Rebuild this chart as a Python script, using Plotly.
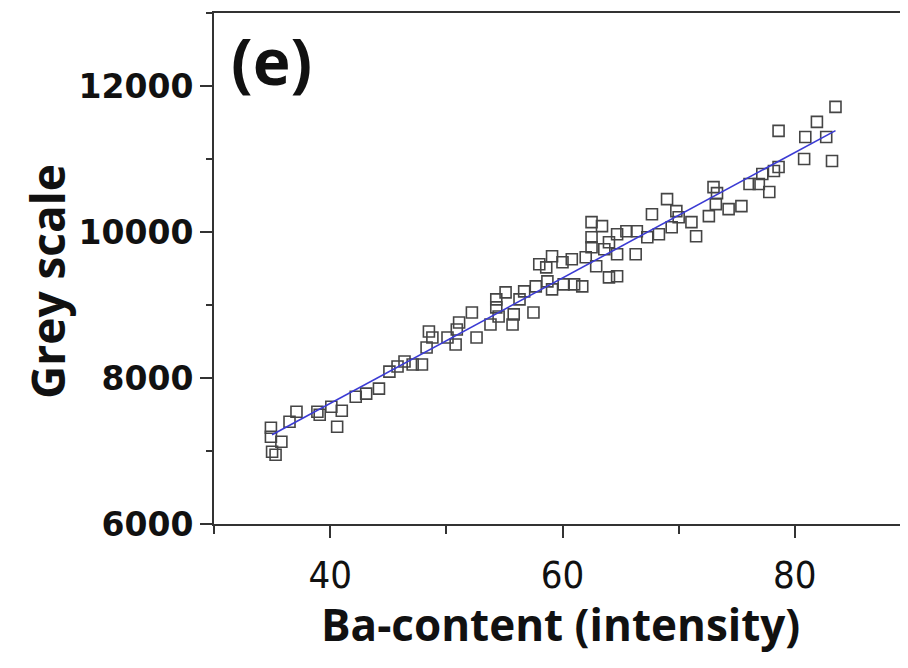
import plotly.graph_objects as go

# Data
ba_content = [34.9, 34.9, 35.8, 35.0, 35.3, 36.5, 37.1, 38.9, 39.1, 40.1,
              41.0, 40.6, 42.2, 43.1, 44.2, 45.1, 45.8, 46.4, 47.1, 47.9,
              48.3, 48.5, 48.8, 50.1, 50.8, 50.9, 51.1, 52.2, 52.6, 53.8,
              54.3, 54.3, 54.5, 55.1, 55.7, 55.8, 56.3, 56.7, 57.5, 57.7,
              58.0, 58.6, 59.1, 58.7, 59.1, 60.0, 60.8, 62.0, 62.9, 60.1,
              61.0, 61.7, 64.0, 64.7, 62.5, 63.6, 64.7, 66.3, 64.0, 62.5,
              62.5, 63.4, 64.7, 65.5, 66.4, 67.3, 68.3, 69.4, 71.5, 71.1,
              70.0, 69.8, 67.7, 69.0, 72.6, 73.0, 73.3, 73.2, 74.3, 75.4,
              76.1, 76.9, 77.8, 77.2, 78.2, 78.6, 80.8, 83.2, 80.9, 82.7,
              78.6, 81.9, 83.5]
grey_scale = [7319, 7195, 7126, 6989, 6948, 7401, 7538, 7538, 7497, 7607,
              7552, 7332, 7744, 7786, 7854, 8088, 8157, 8225, 8184, 8184,
              8418, 8637, 8555, 8555, 8459, 8665, 8761, 8898, 8555, 8733,
              9077, 8967, 8843, 9173, 8733, 8871, 9077, 9187, 8898, 9255,
              9558, 9516, 9668, 9324, 9214, 9585, 9626, 9654, 9530, 9283,
              9283, 9255, 9379, 9393, 9791, 9764, 9695, 9695, 9860, 9928,
              10135, 10080, 9970, 10011, 10011, 9928, 9970, 10066, 9942, 10135,
              10203, 10286, 10244, 10450, 10217, 10615, 10533, 10382, 10313, 10354,
              10657, 10657, 10547, 10794, 10835, 10890, 11000, 10972, 11302, 11302,
              11385, 11508, 11714]

fit_x = [35.0, 83.5]
fit_y = [7222, 11389]

x_ticks = [40, 60, 80]
x_tick_labels = ["40", "60", "80"]
y_ticks = [6000, 8000, 10000, 12000]
y_tick_labels = ["6000", "8000", "10000", "12000"]

# page body has an 8px margin; plot area spans x 214..911, y 13..524 in the window
L, T, W, H = 214, 13, 697, 511


def px(xv):
    return (xv - L) / W


def py(yv):
    return (T + H - yv) / H


fig = go.Figure()
fig.add_trace(go.Scatter(
    x=ba_content, y=grey_scale, mode="markers",
    marker=dict(symbol="square-open", size=11, color="#454545",
                line=dict(width=1.6, color="#454545")),
    showlegend=False))
fig.add_trace(go.Scatter(
    x=fit_x, y=fit_y, mode="lines",
    line=dict(color="#3b3bd4", width=1.6), showlegend=False))
fig.add_trace(go.Scatter(x=[None], y=[None], yaxis="y2", showlegend=False,
                         hoverinfo="skip"))

axis_col = "#333333"
fig.update_layout(
    width=908, height=668,
    margin=dict(l=206, r=5, t=5, b=152),
    paper_bgcolor="white", plot_bgcolor="white",
    xaxis=dict(
        range=[30, 90], tickvals=x_ticks, ticktext=x_tick_labels,
        ticks="outside", ticklen=12, tickwidth=2, tickcolor=axis_col,
        minor=dict(tickvals=[30, 50, 70], ticks="outside", ticklen=8,
                   tickwidth=2, tickcolor=axis_col),
        showline=True, linewidth=2, linecolor=axis_col, mirror=True,
        showgrid=False, zeroline=False, automargin=False,
        tickfont=dict(family="Liberation Sans Narrow, Arial Narrow, DejaVu Sans Condensed, sans-serif",
                      size=38, color="#111111"),
        ticklabelstandoff=4,
    ),
    yaxis=dict(
        range=[6000, 13000], tickvals=y_ticks, ticktext=y_tick_labels,
        ticks="outside", ticklen=12, tickwidth=2, tickcolor=axis_col,
        minor=dict(dtick=1000, ticks="outside", ticklen=6, tickwidth=2,
                   tickcolor=axis_col),
        showline=True, linewidth=2, linecolor=axis_col,
        showgrid=False, zeroline=False, automargin=False,
        tickfont=dict(family="DejaVu Sans", size=33, color="#111111", weight="bold"),
        ticklabelstandoff=0,
    ),
    yaxis2=dict(
        range=[6000, 13000], overlaying="y", side="right",
        tickvals=y_ticks, ticks="inside", ticklen=7, tickwidth=2,
        tickcolor="#555555",
        minor=dict(dtick=1000, ticks="inside", ticklen=3, tickwidth=2,
                   tickcolor="#888888"),
        showticklabels=False, showline=False, showgrid=False, zeroline=False,
        automargin=False,
    ),
    annotations=[
        dict(text="(e)", x=px(229), y=py(60),
             xref="paper", yref="paper", xanchor="left", yanchor="middle",
             showarrow=False,
             font=dict(family="Open Sans", size=64, color="#111111", weight="bold")),
        dict(text="Grey scale", x=px(47), y=py(282),
             xref="paper", yref="paper", xanchor="center", yanchor="middle",
             textangle=-90, showarrow=False,
             font=dict(family="Open Sans", size=46, color="#111111", weight="bold")),
        dict(text="Ba-content (intensity)", x=px(560), y=py(624),
             xref="paper", yref="paper", xanchor="center", yanchor="middle",
             showarrow=False,
             font=dict(family="Open Sans", size=44, color="#111111", weight="bold")),
    ],
)

fig.write_html("out.html")
